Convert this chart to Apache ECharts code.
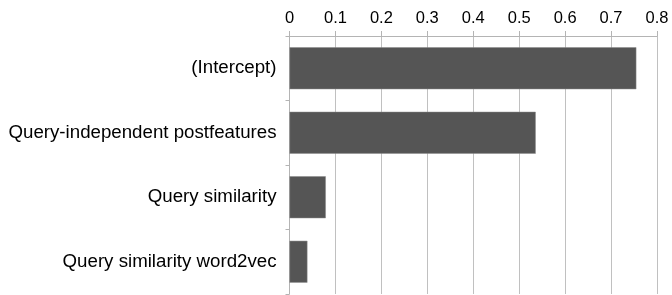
<!DOCTYPE html>
<html><head><meta charset="utf-8">
<script src="https://cdn.jsdelivr.net/npm/echarts@6/dist/echarts.min.js"></script>
<style>html,body{margin:0;padding:0;background:#fff}#c{width:672px;height:295px}</style>
</head><body><div id="c"></div>
<script>
const categories = ["(Intercept)", "Query-independent postfeatures", "Query similarity", "Query similarity word2vec"];
const values = [0.755, 0.536, 0.079, 0.039];
const xTicks = [0, 0.1, 0.2, 0.3, 0.4, 0.5, 0.6, 0.7, 0.8];

const chart = echarts.init(document.getElementById('c'), null, {renderer: 'canvas'});
chart.setOption({
  animation: false,
  grid: {left: 289.5, right: 15, top: 36, bottom: 1, containLabel: false},
  xAxis: {
    type: 'value', position: 'top', min: xTicks[0], max: xTicks[xTicks.length-1], interval: 0.1,
    axisLine: {show: true, lineStyle: {color: '#b4b4b4', width: 1}},
    axisTick: {show: true, length: 5, lineStyle: {color: '#b4b4b4'}},
    splitLine: {show: true, lineStyle: {color: '#c0c0c0', width: 1}},
    axisLabel: {color: '#000', fontSize: 16.5, fontFamily: 'Liberation Sans, Arial, sans-serif', margin: 9,
      formatter: v => String(Math.round(v*10)/10)}
  },
  yAxis: {
    type: 'category', inverse: true, data: categories,
    axisLine: {show: true, lineStyle: {color: '#b4b4b4', width: 1}},
    axisTick: {show: true, length: 4, inside: false, lineStyle: {color: '#b4b4b4'}},
    axisLabel: {color: '#000', fontSize: 18.7, fontFamily: 'Liberation Sans, Arial, sans-serif', margin: 13}
  },
  series: [{
    type: 'bar', data: values, barCategoryGap: '35%',
    itemStyle: {color: '#555555', borderColor: '#8a8a8a', borderWidth: 0.5}
  }]
});
</script></body></html>
